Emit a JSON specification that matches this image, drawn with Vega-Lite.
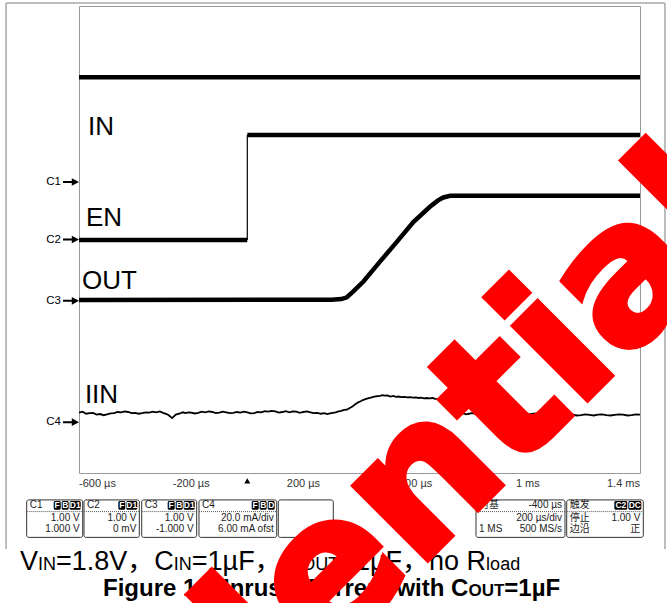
{
  "$schema": "https://vega.github.io/schema/vega-lite/v6.json",
  "width": 561,
  "height": 467,
  "autosize": {"type": "none"},
  "padding": {"left": 79, "top": 6, "right": 27, "bottom": 130},
  "background": "white",
  "config": {"view": {"stroke": "#9a9a9a", "strokeWidth": 1}, "font": "Liberation Sans"},
  "datasets": {
    "frame": [
      {"x": -860, "x2": -860, "y": 4.05, "y2": -5.3},
      {"x": -860, "x2": 1489, "y": 4.05, "y2": 4.05},
      {"x": 1489, "x2": 1489, "y": 4.05, "y2": -5.3}
    ],
    "ticks": [
      {"t": -600, "label": "-600 µs"},
      {"t": -200, "label": "-200 µs"},
      {"t": 200, "label": "200 µs"},
      {"t": 600, "label": "600 µs"},
      {"t": 1000, "label": "1 ms"},
      {"t": 1400, "label": "1.4 ms"}
    ],
    "traces": [
      {"ch": "IN", "part": "a", "t": -600, "v": 2.78},
      {"ch": "IN", "part": "a", "t": 1400, "v": 2.78},
      {"ch": "EN", "part": "low", "t": -600, "v": -0.01},
      {"ch": "EN", "part": "low", "t": 0, "v": -0.01},
      {"ch": "EN", "part": "edge", "t": 0, "v": -0.01},
      {"ch": "EN", "part": "edge", "t": 0, "v": 1.79},
      {"ch": "EN", "part": "high", "t": 0, "v": 1.79},
      {"ch": "EN", "part": "high", "t": 1400, "v": 1.79},
      {"ch": "OUT", "part": "a", "t": -600, "v": -1.035},
      {"ch": "OUT", "part": "a", "t": 300, "v": -1.03},
      {"ch": "OUT", "part": "a", "t": 335, "v": -1.02},
      {"ch": "OUT", "part": "a", "t": 355, "v": -0.99},
      {"ch": "OUT", "part": "a", "t": 378, "v": -0.89},
      {"ch": "OUT", "part": "a", "t": 414, "v": -0.72},
      {"ch": "OUT", "part": "a", "t": 473, "v": -0.38},
      {"ch": "OUT", "part": "a", "t": 533, "v": -0.04},
      {"ch": "OUT", "part": "a", "t": 592, "v": 0.3},
      {"ch": "OUT", "part": "a", "t": 651, "v": 0.56},
      {"ch": "OUT", "part": "a", "t": 680, "v": 0.67},
      {"ch": "OUT", "part": "a", "t": 699, "v": 0.72},
      {"ch": "OUT", "part": "a", "t": 723, "v": 0.75},
      {"ch": "OUT", "part": "a", "t": 1400, "v": 0.75},
      {"ch": "IIN", "part": "a", "t": -600, "v": -2.965},
      {"ch": "IIN", "part": "a", "t": -587, "v": -2.95},
      {"ch": "IIN", "part": "a", "t": -575, "v": -2.985},
      {"ch": "IIN", "part": "a", "t": -562, "v": -2.975},
      {"ch": "IIN", "part": "a", "t": -550, "v": -2.97},
      {"ch": "IIN", "part": "a", "t": -537, "v": -3.0},
      {"ch": "IIN", "part": "a", "t": -525, "v": -2.99},
      {"ch": "IIN", "part": "a", "t": -512, "v": -3.01},
      {"ch": "IIN", "part": "a", "t": -500, "v": -2.995},
      {"ch": "IIN", "part": "a", "t": -487, "v": -2.98},
      {"ch": "IIN", "part": "a", "t": -475, "v": -2.975},
      {"ch": "IIN", "part": "a", "t": -462, "v": -2.955},
      {"ch": "IIN", "part": "a", "t": -450, "v": -2.96},
      {"ch": "IIN", "part": "a", "t": -437, "v": -2.945},
      {"ch": "IIN", "part": "a", "t": -425, "v": -2.955},
      {"ch": "IIN", "part": "a", "t": -412, "v": -2.975},
      {"ch": "IIN", "part": "a", "t": -400, "v": -2.97},
      {"ch": "IIN", "part": "a", "t": -387, "v": -2.985},
      {"ch": "IIN", "part": "a", "t": -375, "v": -2.975},
      {"ch": "IIN", "part": "a", "t": -362, "v": -2.96},
      {"ch": "IIN", "part": "a", "t": -350, "v": -2.965},
      {"ch": "IIN", "part": "a", "t": -337, "v": -2.95},
      {"ch": "IIN", "part": "a", "t": -325, "v": -2.96},
      {"ch": "IIN", "part": "a", "t": -312, "v": -2.945},
      {"ch": "IIN", "part": "a", "t": -300, "v": -2.97},
      {"ch": "IIN", "part": "a", "t": -288, "v": -2.99},
      {"ch": "IIN", "part": "a", "t": -280, "v": -3.01},
      {"ch": "IIN", "part": "a", "t": -268, "v": -3.06},
      {"ch": "IIN", "part": "a", "t": -255, "v": -3.0},
      {"ch": "IIN", "part": "a", "t": -240, "v": -2.98},
      {"ch": "IIN", "part": "a", "t": -230, "v": -2.96},
      {"ch": "IIN", "part": "a", "t": -220, "v": -2.975},
      {"ch": "IIN", "part": "a", "t": -210, "v": -2.96},
      {"ch": "IIN", "part": "a", "t": -200, "v": -2.965},
      {"ch": "IIN", "part": "a", "t": -187, "v": -2.98},
      {"ch": "IIN", "part": "a", "t": -175, "v": -2.97},
      {"ch": "IIN", "part": "a", "t": -162, "v": -2.95},
      {"ch": "IIN", "part": "a", "t": -150, "v": -2.96},
      {"ch": "IIN", "part": "a", "t": -137, "v": -2.945},
      {"ch": "IIN", "part": "a", "t": -125, "v": -2.955},
      {"ch": "IIN", "part": "a", "t": -112, "v": -2.975},
      {"ch": "IIN", "part": "a", "t": -100, "v": -2.965},
      {"ch": "IIN", "part": "a", "t": -87, "v": -2.95},
      {"ch": "IIN", "part": "a", "t": -75, "v": -2.96},
      {"ch": "IIN", "part": "a", "t": -62, "v": -2.975},
      {"ch": "IIN", "part": "a", "t": -50, "v": -2.97},
      {"ch": "IIN", "part": "a", "t": -37, "v": -2.955},
      {"ch": "IIN", "part": "a", "t": -25, "v": -2.965},
      {"ch": "IIN", "part": "a", "t": -12, "v": -2.95},
      {"ch": "IIN", "part": "a", "t": 0, "v": -2.96},
      {"ch": "IIN", "part": "a", "t": 12, "v": -2.98},
      {"ch": "IIN", "part": "a", "t": 25, "v": -2.975},
      {"ch": "IIN", "part": "a", "t": 37, "v": -2.955},
      {"ch": "IIN", "part": "a", "t": 50, "v": -2.96},
      {"ch": "IIN", "part": "a", "t": 62, "v": -2.94},
      {"ch": "IIN", "part": "a", "t": 75, "v": -2.95},
      {"ch": "IIN", "part": "a", "t": 87, "v": -2.935},
      {"ch": "IIN", "part": "a", "t": 100, "v": -2.945},
      {"ch": "IIN", "part": "a", "t": 112, "v": -2.965},
      {"ch": "IIN", "part": "a", "t": 125, "v": -2.955},
      {"ch": "IIN", "part": "a", "t": 137, "v": -2.94},
      {"ch": "IIN", "part": "a", "t": 150, "v": -2.96},
      {"ch": "IIN", "part": "a", "t": 162, "v": -2.945},
      {"ch": "IIN", "part": "a", "t": 175, "v": -2.95},
      {"ch": "IIN", "part": "a", "t": 187, "v": -2.97},
      {"ch": "IIN", "part": "a", "t": 200, "v": -2.955},
      {"ch": "IIN", "part": "a", "t": 212, "v": -2.945},
      {"ch": "IIN", "part": "a", "t": 225, "v": -2.96},
      {"ch": "IIN", "part": "a", "t": 237, "v": -2.975},
      {"ch": "IIN", "part": "a", "t": 250, "v": -2.97},
      {"ch": "IIN", "part": "a", "t": 262, "v": -2.985},
      {"ch": "IIN", "part": "a", "t": 275, "v": -2.975},
      {"ch": "IIN", "part": "a", "t": 285, "v": -2.99},
      {"ch": "IIN", "part": "a", "t": 295, "v": -2.98},
      {"ch": "IIN", "part": "a", "t": 305, "v": -2.97},
      {"ch": "IIN", "part": "a", "t": 315, "v": -2.96},
      {"ch": "IIN", "part": "a", "t": 325, "v": -2.945},
      {"ch": "IIN", "part": "a", "t": 335, "v": -2.935},
      {"ch": "IIN", "part": "a", "t": 345, "v": -2.92},
      {"ch": "IIN", "part": "a", "t": 355, "v": -2.915},
      {"ch": "IIN", "part": "a", "t": 365, "v": -2.885},
      {"ch": "IIN", "part": "a", "t": 375, "v": -2.86},
      {"ch": "IIN", "part": "a", "t": 385, "v": -2.82},
      {"ch": "IIN", "part": "a", "t": 395, "v": -2.79},
      {"ch": "IIN", "part": "a", "t": 404, "v": -2.77},
      {"ch": "IIN", "part": "a", "t": 412, "v": -2.75},
      {"ch": "IIN", "part": "a", "t": 421, "v": -2.735},
      {"ch": "IIN", "part": "a", "t": 430, "v": -2.72},
      {"ch": "IIN", "part": "a", "t": 440, "v": -2.71},
      {"ch": "IIN", "part": "a", "t": 450, "v": -2.695},
      {"ch": "IIN", "part": "a", "t": 461, "v": -2.685},
      {"ch": "IIN", "part": "a", "t": 473, "v": -2.68},
      {"ch": "IIN", "part": "a", "t": 482, "v": -2.665},
      {"ch": "IIN", "part": "a", "t": 490, "v": -2.675},
      {"ch": "IIN", "part": "a", "t": 500, "v": -2.67},
      {"ch": "IIN", "part": "a", "t": 510, "v": -2.69},
      {"ch": "IIN", "part": "a", "t": 520, "v": -2.68},
      {"ch": "IIN", "part": "a", "t": 530, "v": -2.695},
      {"ch": "IIN", "part": "a", "t": 540, "v": -2.69},
      {"ch": "IIN", "part": "a", "t": 550, "v": -2.7},
      {"ch": "IIN", "part": "a", "t": 560, "v": -2.695},
      {"ch": "IIN", "part": "a", "t": 570, "v": -2.705},
      {"ch": "IIN", "part": "a", "t": 580, "v": -2.7},
      {"ch": "IIN", "part": "a", "t": 591, "v": -2.71},
      {"ch": "IIN", "part": "a", "t": 600, "v": -2.705},
      {"ch": "IIN", "part": "a", "t": 610, "v": -2.715},
      {"ch": "IIN", "part": "a", "t": 620, "v": -2.71},
      {"ch": "IIN", "part": "a", "t": 630, "v": -2.72},
      {"ch": "IIN", "part": "a", "t": 640, "v": -2.715},
      {"ch": "IIN", "part": "a", "t": 650, "v": -2.72},
      {"ch": "IIN", "part": "a", "t": 660, "v": -2.715},
      {"ch": "IIN", "part": "a", "t": 670, "v": -2.73},
      {"ch": "IIN", "part": "a", "t": 680, "v": -2.735},
      {"ch": "IIN", "part": "a", "t": 690, "v": -2.75},
      {"ch": "IIN", "part": "a", "t": 700, "v": -2.78},
      {"ch": "IIN", "part": "a", "t": 708, "v": -2.82},
      {"ch": "IIN", "part": "a", "t": 716, "v": -2.86},
      {"ch": "IIN", "part": "a", "t": 722, "v": -2.9},
      {"ch": "IIN", "part": "a", "t": 728, "v": -2.94},
      {"ch": "IIN", "part": "a", "t": 734, "v": -2.97},
      {"ch": "IIN", "part": "a", "t": 740, "v": -2.985},
      {"ch": "IIN", "part": "a", "t": 750, "v": -2.975},
      {"ch": "IIN", "part": "a", "t": 760, "v": -2.99},
      {"ch": "IIN", "part": "a", "t": 770, "v": -2.98},
      {"ch": "IIN", "part": "a", "t": 780, "v": -2.995},
      {"ch": "IIN", "part": "a", "t": 790, "v": -2.985},
      {"ch": "IIN", "part": "a", "t": 800, "v": -2.975},
      {"ch": "IIN", "part": "a", "t": 815, "v": -2.985},
      {"ch": "IIN", "part": "a", "t": 830, "v": -2.98},
      {"ch": "IIN", "part": "a", "t": 845, "v": -2.995},
      {"ch": "IIN", "part": "a", "t": 860, "v": -2.99},
      {"ch": "IIN", "part": "a", "t": 875, "v": -2.975},
      {"ch": "IIN", "part": "a", "t": 890, "v": -2.985},
      {"ch": "IIN", "part": "a", "t": 905, "v": -2.995},
      {"ch": "IIN", "part": "a", "t": 920, "v": -2.99},
      {"ch": "IIN", "part": "a", "t": 935, "v": -3.005},
      {"ch": "IIN", "part": "a", "t": 950, "v": -3.0},
      {"ch": "IIN", "part": "a", "t": 965, "v": -2.985},
      {"ch": "IIN", "part": "a", "t": 980, "v": -2.995},
      {"ch": "IIN", "part": "a", "t": 995, "v": -3.005},
      {"ch": "IIN", "part": "a", "t": 1010, "v": -2.99},
      {"ch": "IIN", "part": "a", "t": 1025, "v": -2.98},
      {"ch": "IIN", "part": "a", "t": 1040, "v": -2.995},
      {"ch": "IIN", "part": "a", "t": 1055, "v": -3.01},
      {"ch": "IIN", "part": "a", "t": 1070, "v": -3.0},
      {"ch": "IIN", "part": "a", "t": 1085, "v": -2.99},
      {"ch": "IIN", "part": "a", "t": 1100, "v": -2.995},
      {"ch": "IIN", "part": "a", "t": 1115, "v": -3.01},
      {"ch": "IIN", "part": "a", "t": 1130, "v": -3.005},
      {"ch": "IIN", "part": "a", "t": 1145, "v": -2.99},
      {"ch": "IIN", "part": "a", "t": 1160, "v": -3.0},
      {"ch": "IIN", "part": "a", "t": 1175, "v": -3.015},
      {"ch": "IIN", "part": "a", "t": 1190, "v": -3.01},
      {"ch": "IIN", "part": "a", "t": 1205, "v": -2.995},
      {"ch": "IIN", "part": "a", "t": 1220, "v": -3.005},
      {"ch": "IIN", "part": "a", "t": 1235, "v": -3.015},
      {"ch": "IIN", "part": "a", "t": 1250, "v": -3.0},
      {"ch": "IIN", "part": "a", "t": 1265, "v": -2.995},
      {"ch": "IIN", "part": "a", "t": 1280, "v": -3.01},
      {"ch": "IIN", "part": "a", "t": 1295, "v": -3.015},
      {"ch": "IIN", "part": "a", "t": 1310, "v": -3.005},
      {"ch": "IIN", "part": "a", "t": 1325, "v": -2.995},
      {"ch": "IIN", "part": "a", "t": 1340, "v": -3.0},
      {"ch": "IIN", "part": "a", "t": 1355, "v": -3.015},
      {"ch": "IIN", "part": "a", "t": 1370, "v": -3.01},
      {"ch": "IIN", "part": "a", "t": 1385, "v": -2.995},
      {"ch": "IIN", "part": "a", "t": 1400, "v": -3.0}
    ],
    "labels": [
      {"label": "IN", "t": -568, "v": 1.79},
      {"label": "EN", "t": -575, "v": 0.23},
      {"label": "OUT", "t": -589, "v": -0.85},
      {"label": "IIN", "t": -579, "v": -2.8}
    ],
    "channels": [
      {"ch": "C1", "pos": 0.985},
      {"ch": "C2", "pos": 0.0},
      {"ch": "C3", "pos": -1.05},
      {"ch": "C4", "pos": -3.13}
    ],
    "trigger": [{"t": 0}],
    "panels": [
      {"id": "C1", "x0": -786.5, "x1": -586.8, "sep": true},
      {"id": "C2", "x0": -582.2, "x1": -385.0, "sep": true},
      {"id": "C3", "x0": -376.5, "x1": -180.4, "sep": true},
      {"id": "C4", "x0": -172.2, "x1": 104.8, "sep": true},
      {"id": "E", "x0": 110.5, "x1": 306.6, "sep": false},
      {"id": "TB", "x0": 815.3, "x1": 1132.6, "sep": true},
      {"id": "TR", "x0": 1138.7, "x1": 1411.8, "sep": true}
    ],
    "badges": [
      {"label": "F", "t0": -690.2, "t1": -665.2, "tm": -677.7},
      {"label": "B", "t0": -661.7, "t1": -636.7, "tm": -649.2},
      {"label": "D1", "t0": -633.2, "t1": -593.9, "tm": -613.6},
      {"label": "F", "t0": -459.9, "t1": -434.9, "tm": -447.4},
      {"label": "D1", "t0": -431.4, "t1": -392.2, "tm": -411.8},
      {"label": "F", "t0": -283.8, "t1": -258.8, "tm": -271.3},
      {"label": "B", "t0": -255.3, "t1": -230.3, "tm": -242.8},
      {"label": "D1", "t0": -226.7, "t1": -187.5, "tm": -207.1},
      {"label": "F", "t0": 15.7, "t1": 40.7, "tm": 28.2},
      {"label": "B", "t0": 44.2, "t1": 69.2, "tm": 56.7},
      {"label": "D", "t0": 72.7, "t1": 97.7, "tm": 85.2},
      {"label": "C2", "t0": 1308.4, "t1": 1354.7, "tm": 1331.6},
      {"label": "DC", "t0": 1358.3, "t1": 1404.7, "tm": 1381.5}
    ],
    "boxtext": [
      {"side": "L", "t": -786.5, "y": -4.54, "text": "C1"},
      {"side": "L", "t": -582.2, "y": -4.54, "text": "C2"},
      {"side": "L", "t": -376.5, "y": -4.54, "text": "C3"},
      {"side": "L", "t": -172.2, "y": -4.54, "text": "C4"},
      {"side": "L", "t": 815.3, "y": -4.54, "text": "时基"},
      {"side": "L", "t": 815.3, "y": -4.957, "text": "1 MS"},
      {"side": "L", "t": 1138.7, "y": -4.54, "text": "触发"},
      {"side": "L", "t": 1138.7, "y": -4.77, "text": "停止"},
      {"side": "L", "t": 1138.7, "y": -4.957, "text": "边沿"},
      {"side": "R", "t": -586.8, "y": -4.77, "text": "1.00 V"},
      {"side": "R", "t": -586.8, "y": -4.957, "text": "1.000 V"},
      {"side": "R", "t": -385.0, "y": -4.77, "text": "1.00 V"},
      {"side": "R", "t": -385.0, "y": -4.957, "text": "0 mV"},
      {"side": "R", "t": -180.4, "y": -4.77, "text": "1.00 V"},
      {"side": "R", "t": -180.4, "y": -4.957, "text": "-1.000 V"},
      {"side": "R", "t": 104.8, "y": -4.77, "text": "20.0 mA/div"},
      {"side": "R", "t": 104.8, "y": -4.957, "text": "6.00 mA ofst"},
      {"side": "R", "t": 1132.6, "y": -4.54, "text": "-400 µs"},
      {"side": "R", "t": 1132.6, "y": -4.77, "text": "200 µs/div"},
      {"side": "R", "t": 1132.6, "y": -4.957, "text": "500 MS/s"},
      {"side": "R", "t": 1411.8, "y": -4.77, "text": "1.00 V"},
      {"side": "R", "t": 1411.8, "y": -4.957, "text": "正"}
    ],
    "caption": [
      {"line": 1, "kind": "main", "t": -810.3, "text": "V"},
      {"line": 1, "kind": "sub", "t": -746.2, "text": "IN"},
      {"line": 1, "kind": "main", "t": -682.0, "text": "=1.8V，C"},
      {"line": 1, "kind": "sub", "t": -262.0, "text": "IN"},
      {"line": 1, "kind": "main", "t": -197.9, "text": "=1µF，C"},
      {"line": 1, "kind": "sub", "t": 192.2, "text": "OUT"},
      {"line": 1, "kind": "main", "t": 327.6, "text": "=1µF，no R"},
      {"line": 1, "kind": "sub", "t": 851.4, "text": "load"},
      {"line": 2, "kind": "main", "t": -514.4, "text": "Figure 19. Inrush Current with C"},
      {"line": 2, "kind": "sub", "t": 788.3, "text": "OUT"},
      {"line": 2, "kind": "main", "t": 916.3, "text": "=1µF"}
    ],
    "watermark": [{"text": "Confidential", "t": 191.5, "v": -7.646}]
  },
  "layer": [
    {
      "data": {"name": "traces"},
      "mark": {"type": "line", "color": "black", "strokeCap": "butt"},
      "encoding": {
        "x": {
          "field": "t", "type": "quantitative",
          "scale": {"domain": [-600, 1400], "nice": false, "zero": false},
          "axis": {
            "title": null,
            "values": [-600, -400, -200, 0, 200, 400, 600, 800, 1000, 1200, 1400],
            "grid": true, "gridColor": "#b5b5b5", "gridDash": [1, 2], "gridWidth": 1,
            "domain": false, "ticks": false, "labels": false
          }
        },
        "y": {
          "field": "v", "type": "quantitative",
          "scale": {"domain": [-4, 4], "nice": false, "zero": false},
          "axis": {
            "title": null,
            "values": [-4, -3, -2, -1, 0, 1, 2, 3, 4],
            "grid": true, "gridColor": "#b5b5b5", "gridDash": [1, 2], "gridWidth": 1,
            "labels": false, "ticks": false, "domain": false
          }
        },
        "detail": [{"field": "ch"}, {"field": "part"}],
        "strokeWidth": {
          "condition": [
            {"test": "datum.part === 'edge'", "value": 1.2},
            {"test": "datum.ch === 'IIN'", "value": 1.8}
          ],
          "value": 4.5
        }
      }
    },
    {
      "data": {"name": "frame"},
      "mark": {"type": "rule", "color": "#a8a8a8", "strokeWidth": 1.5},
      "encoding": {
        "x": {"field": "x", "type": "quantitative", "axis": null},
        "x2": {"field": "x2"},
        "y": {"field": "y", "type": "quantitative", "axis": null},
        "y2": {"field": "y2"}
      }
    },
    {
      "data": {"name": "ticks"},
      "transform": [{"filter": "datum.t === -600"}],
      "mark": {"type": "text", "align": "left", "baseline": "alphabetic", "fontSize": 11, "font": "Liberation Sans", "color": "#333"},
      "encoding": {
        "x": {"field": "t", "type": "quantitative", "axis": null},
        "y": {"datum": -4.238, "type": "quantitative", "axis": null},
        "text": {"field": "label"}
      }
    },
    {
      "data": {"name": "ticks"},
      "transform": [{"filter": "datum.t > -600 && datum.t < 1400"}],
      "mark": {"type": "text", "align": "center", "baseline": "alphabetic", "fontSize": 11, "font": "Liberation Sans", "color": "#333"},
      "encoding": {
        "x": {"field": "t", "type": "quantitative", "axis": null},
        "y": {"datum": -4.238, "type": "quantitative", "axis": null},
        "text": {"field": "label"}
      }
    },
    {
      "data": {"name": "ticks"},
      "transform": [{"filter": "datum.t === 1400"}],
      "mark": {"type": "text", "align": "right", "baseline": "alphabetic", "fontSize": 11, "font": "Liberation Sans", "color": "#333"},
      "encoding": {
        "x": {"field": "t", "type": "quantitative", "axis": null},
        "y": {"datum": -4.238, "type": "quantitative", "axis": null},
        "text": {"field": "label"}
      }
    },
    {
      "data": {"name": "labels"},
      "mark": {"type": "text", "align": "left", "baseline": "alphabetic", "fontSize": 26, "font": "Liberation Sans", "color": "black"},
      "encoding": {
        "x": {"field": "t", "type": "quantitative", "axis": null},
        "y": {"field": "v", "type": "quantitative", "axis": null},
        "text": {"field": "label"}
      }
    },
    {
      "data": {"name": "channels"},
      "mark": {"type": "text", "align": "right", "baseline": "middle", "dx": -18, "fontSize": 11.5, "font": "Liberation Sans", "color": "black"},
      "encoding": {
        "x": {"datum": -600, "type": "quantitative", "axis": null},
        "y": {"field": "pos", "type": "quantitative", "axis": null},
        "text": {"field": "ch"}
      }
    },
    {
      "data": {"name": "channels"},
      "mark": {"type": "point", "shape": "M -1 -0.12 L 0.1 -0.12 L 0.1 -0.48 L 1 0 L 0.1 0.48 L 0.1 0.12 L -1 0.12 Z", "size": 256, "filled": true, "color": "black", "opacity": 1, "xOffset": -8},
      "encoding": {
        "x": {"datum": -600, "type": "quantitative", "axis": null},
        "y": {"field": "pos", "type": "quantitative", "axis": null}
      }
    },
    {
      "data": {"name": "trigger"},
      "mark": {"type": "point", "shape": "triangle-up", "size": 36, "filled": true, "color": "black", "opacity": 1},
      "encoding": {
        "x": {"field": "t", "type": "quantitative", "axis": null},
        "y": {"datum": -4.135, "type": "quantitative", "axis": null}
      }
    },
    {
      "data": {"name": "panels"},
      "mark": {"type": "rect", "fill": "white", "stroke": "#333", "strokeWidth": 1, "cornerRadius": 2},
      "encoding": {
        "x": {"field": "x0", "type": "quantitative", "axis": null},
        "x2": {"field": "x1"},
        "y": {"datum": -4.461, "type": "quantitative", "axis": null},
        "y2": {"datum": -5.103}
      }
    },
    {
      "data": {"name": "panels"},
      "transform": [{"filter": "datum.sep"}],
      "mark": {"type": "rule", "color": "#555", "strokeWidth": 1, "strokeDash": [1, 1]},
      "encoding": {
        "x": {"field": "x0", "type": "quantitative", "axis": null},
        "x2": {"field": "x1"},
        "y": {"datum": -4.661, "type": "quantitative", "axis": null}
      }
    },
    {
      "data": {"name": "badges"},
      "mark": {"type": "rect", "fill": "black", "cornerRadius": 1.5},
      "encoding": {
        "x": {"field": "t0", "type": "quantitative", "axis": null},
        "x2": {"field": "t1"},
        "y": {"datum": -4.478, "type": "quantitative", "axis": null},
        "y2": {"datum": -4.63}
      }
    },
    {
      "data": {"name": "badges"},
      "mark": {"type": "text", "align": "center", "baseline": "middle", "fontSize": 8.5, "fontWeight": "bold", "font": "Liberation Sans", "color": "white"},
      "encoding": {
        "x": {"field": "tm", "type": "quantitative", "axis": null},
        "y": {"datum": -4.555, "type": "quantitative", "axis": null},
        "text": {"field": "label"}
      }
    },
    {
      "data": {"name": "boxtext"},
      "transform": [{"filter": "datum.side === 'L'"}],
      "mark": {"type": "text", "align": "left", "baseline": "middle", "dx": 3, "fontSize": 10, "font": "Liberation Sans, Noto Sans CJK SC", "color": "#222"},
      "encoding": {
        "x": {"field": "t", "type": "quantitative", "axis": null},
        "y": {"field": "y", "type": "quantitative", "axis": null},
        "text": {"field": "text"}
      }
    },
    {
      "data": {"name": "boxtext"},
      "transform": [{"filter": "datum.side === 'R'"}],
      "mark": {"type": "text", "align": "right", "baseline": "middle", "dx": -3, "fontSize": 10, "font": "Liberation Sans, Noto Sans CJK SC", "color": "#222"},
      "encoding": {
        "x": {"field": "t", "type": "quantitative", "axis": null},
        "y": {"field": "y", "type": "quantitative", "axis": null},
        "text": {"field": "text"}
      }
    },
    {
      "data": {"name": "caption"},
      "transform": [{"filter": "datum.line === 1 && datum.kind === 'main'"}],
      "mark": {"type": "text", "align": "left", "baseline": "alphabetic", "fontSize": 27, "font": "Liberation Sans, Noto Sans CJK SC", "color": "black"},
      "encoding": {
        "x": {"field": "t", "type": "quantitative", "axis": null},
        "y": {"datum": -5.659, "type": "quantitative", "axis": null},
        "text": {"field": "text"}
      }
    },
    {
      "data": {"name": "caption"},
      "transform": [{"filter": "datum.line === 1 && datum.kind === 'sub'"}],
      "mark": {"type": "text", "align": "left", "baseline": "alphabetic", "fontSize": 18, "font": "Liberation Sans", "color": "black"},
      "encoding": {
        "x": {"field": "t", "type": "quantitative", "axis": null},
        "y": {"datum": -5.659, "type": "quantitative", "axis": null},
        "text": {"field": "text"}
      }
    },
    {
      "data": {"name": "caption"},
      "transform": [{"filter": "datum.line === 2 && datum.kind === 'main'"}],
      "mark": {"type": "text", "align": "left", "baseline": "alphabetic", "fontSize": 24, "fontWeight": "bold", "font": "Liberation Sans", "color": "black"},
      "encoding": {
        "x": {"field": "t", "type": "quantitative", "axis": null},
        "y": {"datum": -6.1, "type": "quantitative", "axis": null},
        "text": {"field": "text"}
      }
    },
    {
      "data": {"name": "caption"},
      "transform": [{"filter": "datum.line === 2 && datum.kind === 'sub'"}],
      "mark": {"type": "text", "align": "left", "baseline": "alphabetic", "fontSize": 17, "fontWeight": "bold", "font": "Liberation Sans", "color": "black"},
      "encoding": {
        "x": {"field": "t", "type": "quantitative", "axis": null},
        "y": {"datum": -6.1, "type": "quantitative", "axis": null},
        "text": {"field": "text"}
      }
    },
    {
      "data": {"name": "watermark"},
      "mark": {"type": "text", "align": "center", "baseline": "alphabetic", "angle": -45, "fontSize": 190, "fontWeight": "bold", "font": "DejaVu Sans", "color": "#ff0000", "stroke": "#ff0000", "strokeWidth": 6},
      "encoding": {
        "x": {"field": "t", "type": "quantitative", "axis": null},
        "y": {"field": "v", "type": "quantitative", "axis": null},
        "text": {"field": "text"}
      }
    }
  ]
}
